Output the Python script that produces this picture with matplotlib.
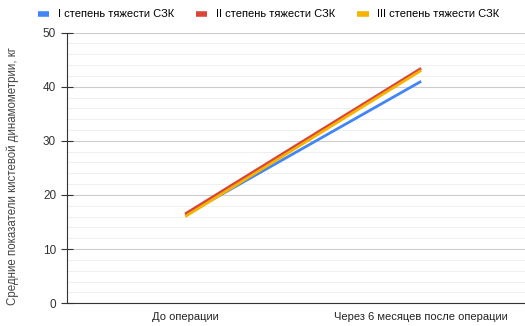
import numpy as np
import matplotlib.pyplot as plt
from matplotlib.ticker import MultipleLocator

plt.rcParams['font.family'] = ['Liberation Sans', 'DejaVu Sans']

categories = ['До операции', 'Через 6 месяцев после операции']
series_names = ['I степень тяжести СЗК', 'II степень тяжести СЗК', 'III степень тяжести СЗК']
values_I = [16.3, 41.0]
values_II = [16.5, 43.4]
values_III = [16.0, 43.0]
colors = ['#4285F4', '#DB4437', '#F4B400']

fig = plt.figure(figsize=(5.25, 3.26), dpi=100)
ax = fig.add_axes([0.128, 0.07, 0.872, 0.83])

x = np.arange(len(categories))
for vals, name, c in zip([values_I, values_II, values_III], series_names, colors):
    ax.plot(x, vals, color=c, lw=2, label=name, solid_capstyle='butt')

ax.set_xlim(-0.5, 1.44)
ax.set_ylim(0, 50)
ax.set_xticks(x)
ax.set_xticklabels(categories, fontsize=8, color='#222222')
ax.yaxis.set_major_locator(MultipleLocator(10))
ax.yaxis.set_minor_locator(MultipleLocator(2))
ax.tick_params(axis='y', which='major', direction='inout', length=8, labelsize=8.5, colors='#333333', pad=4)
ax.tick_params(axis='y', which='minor', length=0)
ax.tick_params(axis='x', length=0, pad=6)
ax.grid(axis='y', which='major', color='#cccccc', lw=0.8)
ax.grid(axis='y', which='minor', color='#ececec', lw=0.6)
ax.set_axisbelow(True)
for s in ['top', 'right']:
    ax.spines[s].set_visible(False)
ax.spines['left'].set_color('#333333')
ax.spines['bottom'].set_color('#333333')
ax.set_ylabel('Средние показатели кистевой динамометрии, кг', fontsize=8.3, color='#444444')
ax.yaxis.set_label_coords(-0.105, 0.47)

ax.legend(loc='upper center', bbox_to_anchor=(0.44, 1.125), ncol=3, frameon=False,
          fontsize=8, handlelength=1.0, handleheight=0.3, columnspacing=2.0, handletextpad=0.8)
for line in ax.get_legend().get_lines():
    line.set_linewidth(4)

plt.savefig('out.png', dpi=100)
